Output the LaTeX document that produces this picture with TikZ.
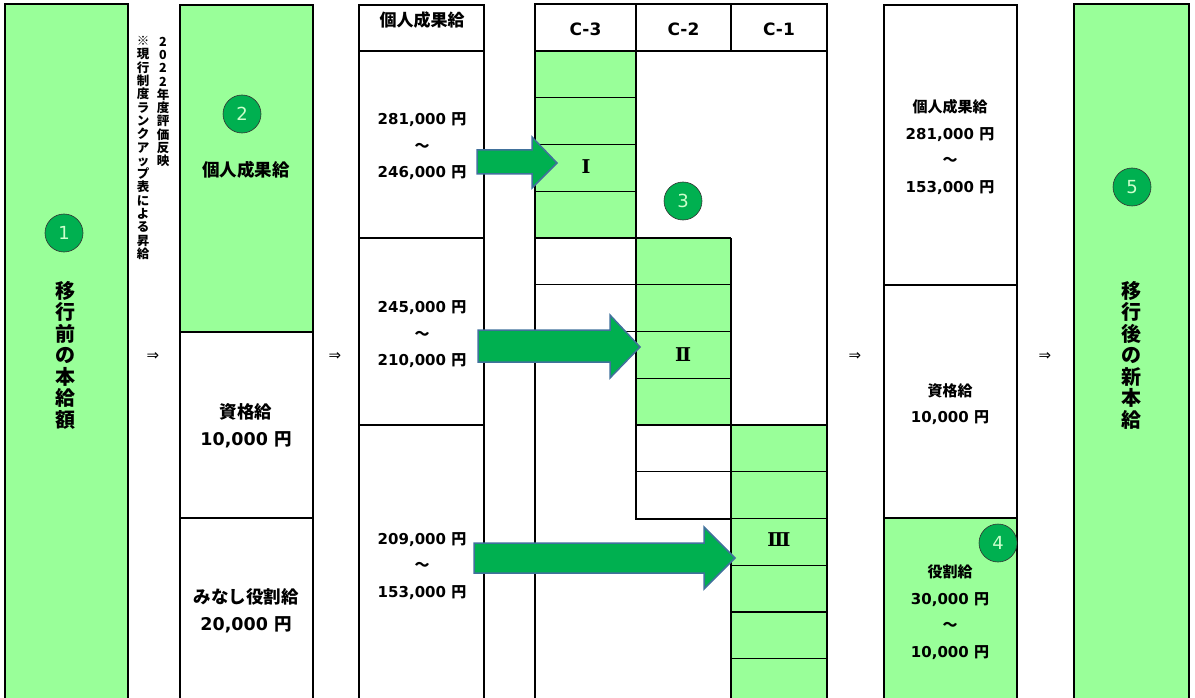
\documentclass[tikz,border=0pt]{standalone}
\usepackage{fontspec}
\setmainfont{DejaVu Sans}
\newfontfamily\jp{Noto Sans CJK JP}
\newfontfamily\rmnum{DejaVu Serif}
\definecolor{lgreen}{HTML}{99FF99}
\definecolor{dgreen}{HTML}{00B050}
\definecolor{arrowedge}{HTML}{41719C}
\newcommand{\JPY}{{\jp 円}}
\newcommand{\kara}{{\jp ～}}
\begin{document}
\begin{tikzpicture}[x=1pt,y=-1pt,
  box/.style={line width=2.6pt},
  tab/.style={line width=2pt},
  row/.style={line width=1.3pt},
  txt/.style={inner sep=0pt,align=center,font=\bfseries\fontsize{15}{26.5}\selectfont},
  bigtxt/.style={inner sep=0pt,align=center,font=\bfseries\fontsize{17.5}{26.5}\selectfont},
  vtxt/.style={inner sep=0pt,align=center,font=\jp\bfseries\fontsize{20}{21.5}\selectfont},
  note/.style={inner sep=0pt,align=center,font=\jp\bfseries\fontsize{12.5}{13.3}\selectfont},
  badge/.style={circle,fill=dgreen,draw=black!80,line width=0.6pt,minimum size=38pt,
    inner sep=0pt,text=lgreen!50!white,font=\fontsize{18}{18}\selectfont},
  rank/.style={inner sep=0pt,font=\rmnum\bfseries\fontsize{19}{19}\selectfont},
  grade/.style={inner sep=0pt,font=\bfseries\fontsize{17}{17}\selectfont},
  thenarrow/.style={inner sep=0pt,font=\fontsize{15}{15}\selectfont},
  blockarrow/.style={fill=dgreen,draw=arrowedge,line width=1.5pt,line join=miter}]
\useasboundingbox (0,0) rectangle (1195,698);
\clip (0,0) rectangle (1195,698);
% current base pay
\fill[lgreen] (5,4) rectangle (128,710);
\draw[box] (5,4) rectangle (128,710);
\node[badge] (c1) at (64,233) {1};
\node[vtxt] (before) at (65,355) {移\\行\\前\\の\\本\\給\\額};
% note on the raise
\node[note] (note1) at (163,102) {2\\0\\2\\2\\年\\度\\評\\価\\反\\映};
\node[note] (note2) at (143,148) {※\\現\\行\\制\\度\\ラ\\ン\\ク\\ア\\ッ\\プ\\表\\に\\よ\\る\\昇\\給};
\node[thenarrow] (then1) at (153,357) {⇒};
% breakdown before
\fill[lgreen] (180,5) rectangle (313,332);
\draw[box] (180,5) rectangle (313,710);
\draw[box] (180,332) -- (313,332); \draw[box] (180,518) -- (313,518);
\node[badge] (c2) at (242,114) {2};
\node[bigtxt] (perf) at (246,170) {\jp 個人成果給};
\node[bigtxt] (qual) at (246,426) {{\jp 資格給}\\10,000 \JPY};
\node[bigtxt] (role) at (246,611) {{\jp みなし役割給}\\20,000 \JPY};
\node[thenarrow] (then2) at (335,357) {⇒};
% performance pay bands
\draw[tab] (359,5) rectangle (484,710);
\draw[tab] (359,51) -- (484,51); \draw[tab] (359,238) -- (484,238); \draw[tab] (359,425) -- (484,425);
\node[inner sep=0pt,font=\jp\bfseries\fontsize{17}{17}\selectfont] (perfhead) at (422,20) {個人成果給};
\node[txt] (band1) at (422,146.5) {281,000 \JPY\\\kara\\246,000 \JPY};
\node[txt] (band2) at (422,334.5) {245,000 \JPY\\\kara\\210,000 \JPY};
\node[txt] (band3) at (422,566) {209,000 \JPY\\\kara\\153,000 \JPY};
% grade table
\fill[lgreen] (535,51) rectangle (636,238);
\fill[lgreen] (636,238) rectangle (731,425);
\fill[lgreen] (731,425) rectangle (827,710);
\foreach \k in {1,2,3,5,6} \draw[row] (535,51+46.75*\k) -- (636,51+46.75*\k);
\foreach \k in {5,6,7,9} \draw[row] (636,51+46.75*\k) -- (731,51+46.75*\k);
\foreach \k in {9,10,11,12,13} \draw[row] (731,51+46.75*\k) -- (827,51+46.75*\k);
\draw[tab] (535,4) rectangle (827,51);
\draw[tab] (636,4) -- (636,51); \draw[tab] (731,4) -- (731,51);
\draw[tab] (535,51) -- (535,710); \draw[tab] (827,51) -- (827,710);
\draw[tab] (636,51) -- (636,518.5) -- (731,518.5);
\draw[tab] (731,238) -- (731,710);
\draw[tab] (535,238) -- (731,238); \draw[tab] (636,425) -- (827,425);
\node[grade] (gc3) at (585.5,29) {C-3};
\node[grade] (gc2) at (683.5,29) {C-2};
\node[grade] (gc1) at (779,29) {C-1};
\node[rank] (r1) at (586,167) {Ⅰ};
\node[rank] (r2) at (683,355) {Ⅱ};
\node[rank] (r3) at (779,540) {Ⅲ};
\node[badge] (c3) at (683,201) {3};
% block arrows
\draw[blockarrow] (477,150) -- (532,150) -- (532,137) -- (557,163) -- (532,188) -- (532,174) -- (477,174) -- cycle;
\draw[blockarrow] (478,330) -- (610,330) -- (610,315) -- (640,347) -- (610,378) -- (610,362) -- (478,362) -- cycle;
\draw[blockarrow] (474,543) -- (704,543) -- (704,527) -- (735,558) -- (704,589) -- (704,573) -- (474,573) -- cycle;
\node[thenarrow] (then3) at (855,357) {⇒};
% breakdown after
\fill[lgreen] (884,518) rectangle (1017,710);
\draw[box] (884,5) rectangle (1017,710);
\draw[box] (884,285) -- (1017,285); \draw[box] (884,518) -- (1017,518);
\node[txt] (nperf) at (950,147) {{\jp 個人成果給}\\281,000 \JPY\\\kara\\153,000 \JPY};
\node[txt] (nqual) at (950,404) {{\jp 資格給}\\10,000 \JPY};
\node[txt] (nrole) at (950,612) {{\jp 役割給}\\30,000 \JPY\\\kara\\10,000 \JPY};
\node[badge] (c4) at (998,543) {4};
\node[thenarrow] (then4) at (1045,357) {⇒};
% new base pay
\fill[lgreen] (1074,4) rectangle (1189,710);
\draw[box] (1074,4) rectangle (1189,710);
\node[badge] (c5) at (1132,187) {5};
\node[vtxt] (after) at (1131,355) {移\\行\\後\\の\\新\\本\\給};
\end{tikzpicture}
\end{document}
